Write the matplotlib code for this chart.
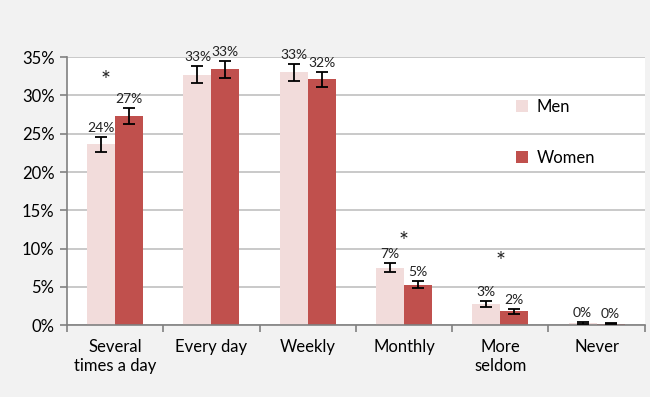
import numpy as np
import matplotlib.pyplot as plt

categories = ['Several\ntimes a day', 'Every day', 'Weekly', 'Monthly', 'More\nseldom', 'Never']
men = [23.6, 32.7, 33.0, 7.5, 2.8, 0.3]
women = [27.3, 33.4, 32.1, 5.3, 1.8, 0.2]
men_err = [1.0, 1.1, 1.1, 0.6, 0.4, 0.15]
women_err = [1.0, 1.1, 1.0, 0.5, 0.3, 0.1]
men_labels = ['24%', '33%', '33%', '7%', '3%', '0%']
women_labels = ['27%', '33%', '32%', '5%', '2%', '0%']
# significance markers: (category index, height in %)
stars = [(-0.1, 31.9), (3, 10.9), (4, 8.3)]

plt.rcParams['font.family'] = ['Lato', 'DejaVu Sans']

fig = plt.figure(figsize=(6.5, 3.97), dpi=100, facecolor='#f2f2f2')
ax = fig.add_axes([0.103, 0.181, 0.889, 0.675])
ax.set_facecolor('white')

x = np.arange(len(categories))
w = 0.29
ax.bar(x - w / 2, men, w, color='#f2dcdb', label='Men', zorder=2)
ax.bar(x + w / 2, women, w, color='#c0504d', label='Women', zorder=2)
ax.errorbar(x - w / 2, men, yerr=men_err, fmt='none', ecolor='black',
            elinewidth=1.3, capsize=4, capthick=1.3, zorder=3)
ax.errorbar(x + w / 2, women, yerr=women_err, fmt='none', ecolor='black',
            elinewidth=1.3, capsize=4, capthick=1.3, zorder=3)

for i in range(len(categories)):
    ax.text(x[i] - w / 2, men[i] + men_err[i] + 0.4, men_labels[i],
            ha='center', va='bottom', fontsize=10, color='#222222')
    ax.text(x[i] + w / 2, women[i] + women_err[i] + 0.4, women_labels[i],
            ha='center', va='bottom', fontsize=10, color='#222222')
for cx, cy in stars:
    ax.text(cx, cy, '*', ha='center', va='center', fontsize=17, color='#222222')

ax.set_xlim(-0.5, len(categories) - 0.5)
ax.set_ylim(0, 35)
ax.set_yticks(range(0, 36, 5))
ax.set_yticklabels([f'{v}%' for v in range(0, 36, 5)], fontsize=12)
ax.yaxis.grid(True, color='#c0c0c0', linewidth=1.2, zorder=0)
ax.set_axisbelow(True)

ax.set_xticks(x)
ax.set_xticklabels(categories, fontsize=12)
ax.set_xticks(np.arange(-0.5, len(categories)), minor=True)
ax.tick_params(axis='x', which='major', length=0, pad=10)
ax.tick_params(axis='x', which='minor', length=5, color='#808080', width=1.2)
ax.tick_params(axis='y', length=5, color='#808080', width=1.2, pad=4)

for s in ['top', 'right']:
    ax.spines[s].set_visible(False)
for s in ['left', 'bottom']:
    ax.spines[s].set_color('#808080')
    ax.spines[s].set_linewidth(1.2)

ax.legend(loc='upper left', bbox_to_anchor=(0.752, 0.9), frameon=False,
          fontsize=12, labelspacing=2.1, handlelength=0.7, handleheight=0.7,
          handletextpad=0.5)

fig.savefig('out.png', dpi=100, facecolor=fig.get_facecolor())
